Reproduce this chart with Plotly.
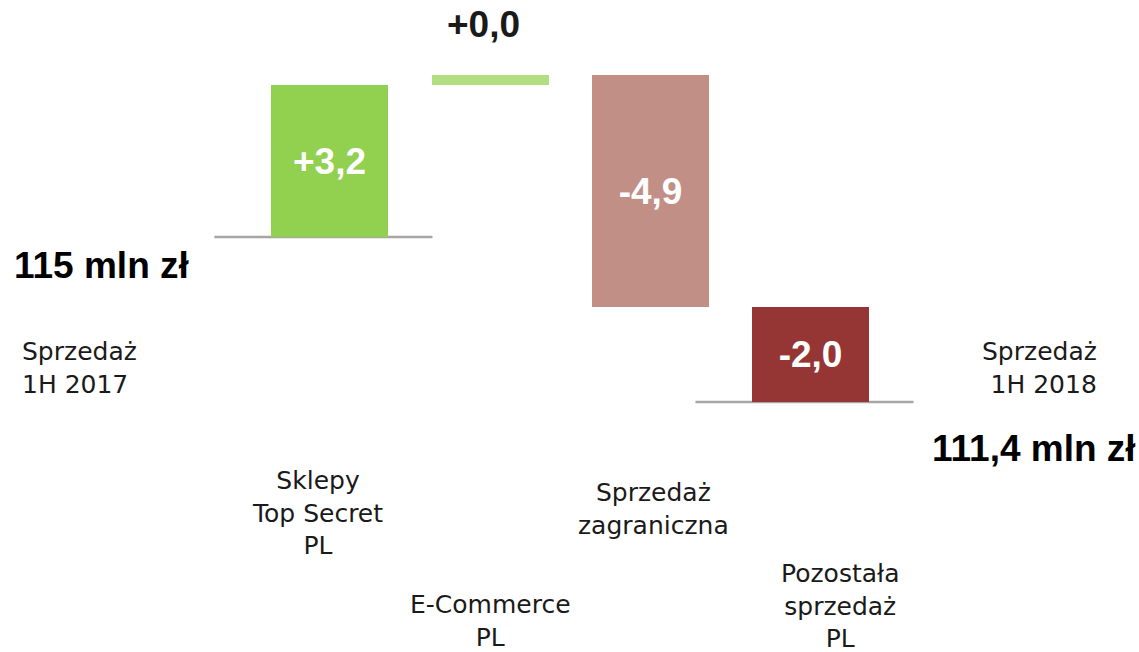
import plotly.graph_objects as go

# ---- data ----
categories = ["Sprzedaż<br>1H 2017", "Sklepy<br>Top Secret<br>PL", "E-Commerce<br>PL",
              "Sprzedaż<br>zagraniczna", "Pozostała<br>sprzedaż<br>PL", "Sprzedaż<br>1H 2018"]
start_total = 115.0
end_total = 111.4
deltas = [3.2, 0.0, -4.9, -2.0]

# ---- style ----
bar_colors = ["#92D050", "#B2DE82", "#C28F86", "#963634"]
MIN_VISIBLE = 0.22          # minimum drawn height so a zero change is still visible
BAR_W = 0.73
LABEL_FONT = "DejaVu Sans"
BOLD_FONT = "Liberation Sans"
TXT = "#1a1a1a"

def fmt(v, sign=False):
    s = f"{v:+.1f}" if sign else f"{v:g}"
    return s.replace(".", ",")

# waterfall geometry from the data
bases, heights = [], []
level = start_total
for d in deltas:
    h = d if abs(d) >= MIN_VISIBLE else MIN_VISIBLE
    bases.append(level)
    heights.append(h)
    level += h
final_level = level

xs = list(range(1, len(deltas) + 1))
inside_text = [fmt(d, True) if abs(d) >= MIN_VISIBLE else "" for d in deltas]

fig = go.Figure()
fig.add_trace(go.Bar(
    x=xs, y=heights, base=bases, width=BAR_W,
    marker=dict(color=bar_colors, line=dict(width=0)),
    text=inside_text, textposition="inside", insidetextanchor="middle", textangle=0,
    insidetextfont=dict(family=BOLD_FONT, size=37, color="white", weight="bold"),
    hoverinfo="skip", showlegend=False,
))

shapes = []
# baseline of start total (under first change) and end total (under last change)
for xi, lvl in [(1, start_total), (len(deltas), final_level)]:
    shapes.append(dict(type="line", xref="x", yref="y", x0=xi - 0.72, x1=xi + 0.64,
                       y0=lvl, y1=lvl, line=dict(color="#A6A6A6", width=2.5), layer="below"))

annotations = []
# labels for changes that are too small to hold text: above the bar
for xi, d, b, h in zip(xs, deltas, bases, heights):
    if abs(d) < MIN_VISIBLE:
        annotations.append(dict(x=xi, y=b + h, xref="x", yref="y", text=fmt(d, True),
                                showarrow=False, yanchor="bottom", xshift=-7, yshift=28,
                                font=dict(family=BOLD_FONT, size=37, color=TXT, weight="bold")))

# category labels (x from category index, vertical staggering as in original)
cat_pos = [  # (xanchor, align, xshift px, y paper)
    ("left", "left", -150, 1 - 368 / 652),
    ("center", "center", -12, 1 - 513 / 652),
    ("center", "center", 0, 1 - 621 / 652),
    ("center", "center", 3, 1 - 509 / 652),
    ("center", "center", 29, 1 - 606 / 652),
    ("right", "right", 128, 1 - 368 / 652),
]
for i, (cat, (xa, al, xsh, yp)) in enumerate(zip(categories, cat_pos)):
    annotations.append(dict(x=i, y=yp, xref="x", yref="paper", text=cat, showarrow=False,
                            xanchor=xa, yanchor="middle", align=al, xshift=xsh,
                            font=dict(family=LABEL_FONT, size=25, color=TXT)))

# totals
annotations.append(dict(x=0, y=1 - 265 / 652, xref="x", yref="paper",
                        text=f"{fmt(start_total)} mln zł", showarrow=False,
                        xanchor="left", yanchor="middle", xshift=-158,
                        font=dict(family=BOLD_FONT, size=37, color="black", weight="bold")))
annotations.append(dict(x=len(categories) - 1, y=1 - 448 / 652, xref="x", yref="paper",
                        text=f"{fmt(end_total)} mln zł", showarrow=False,
                        xanchor="left", yanchor="middle", xshift=-41,
                        font=dict(family=BOLD_FONT, size=37, color="black", weight="bold")))

fig.update_layout(
    width=1139, height=652,
    margin=dict(l=0, r=0, t=0, b=0),
    paper_bgcolor="white", plot_bgcolor="white",
    xaxis=dict(range=[-1.057, 6.046], visible=False, fixedrange=True),
    yaxis=dict(range=[106.25, 120.0], visible=False, fixedrange=True),
    shapes=shapes, annotations=annotations,
    showlegend=False, bargap=0,
)

fig.write_html("out.html")
